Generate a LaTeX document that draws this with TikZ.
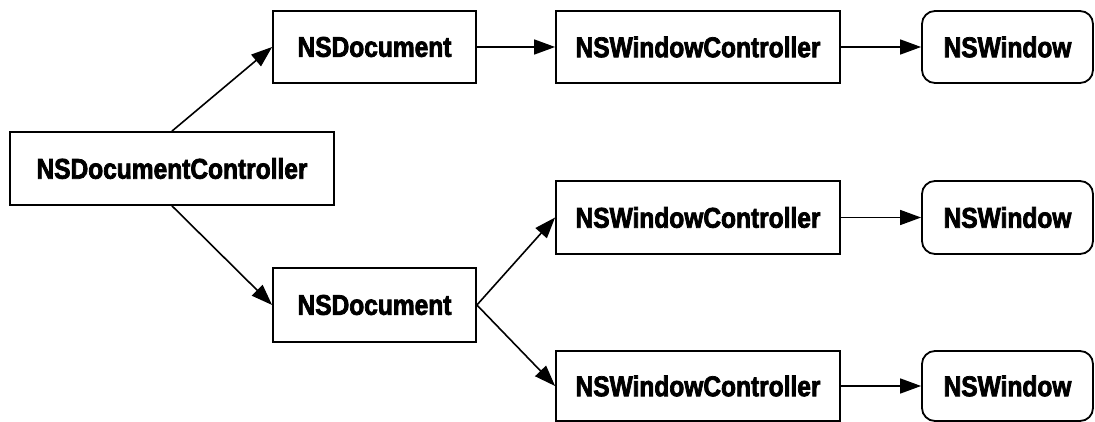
\documentclass[tikz,border=0pt]{standalone}
\usepackage{fontspec}
\newfontfamily\lbl{Liberation Sans}[FakeStretch=0.86,BoldFeatures={FakeBold=2.6}]
\usetikzlibrary{arrows.meta}
\begin{document}
\begin{tikzpicture}[x=1pt,y=-1pt,
  box/.style={draw=black,line width=1.8pt,fill=white,inner sep=0pt,
    minimum height=72pt,font=\lbl\bfseries\fontsize{28.5}{30}\selectfont,anchor=center},
  docbox/.style={box,minimum width=203pt},
  wcbox/.style={box,minimum width=284pt},
  winbox/.style={box,minimum width=171pt,rounded corners=13pt},
  dcbox/.style={box,minimum width=324pt,minimum height=73pt},
  conn/.style={line width=1.6pt,-{Triangle[length=21pt,width=15pt]}}]
\fill[white] (0,0) rectangle (1095,422);
\useasboundingbox (0,0) rectangle (1095,422);
\node[dcbox] (dc) at (172,168.5) {NSDocumentController};
\node[docbox] (docT) at (374.5,47) {NSDocument};
\node[wcbox] (wcT) at (698,47) {NSWindowController};
\node[winbox] (winT) at (1007.5,47) {NSWindow};
\node[docbox,minimum height=74pt] (docB) at (374.5,305) {NSDocument};
\node[wcbox,minimum height=73pt] (wcM) at (698,217.5) {NSWindowController};
\node[winbox,minimum height=73pt] (winM) at (1007.5,217.5) {NSWindow};
\node[wcbox,minimum height=70pt] (wcB) at (698,386) {NSWindowController};
\node[winbox,minimum height=70pt] (winB) at (1007.5,386) {NSWindow};
\draw[conn] (dc.north) -- (docT.west);
\draw[conn] (dc.south) -- (docB.west);
\draw[conn] (docT.east) -- (wcT.west);
\draw[conn] (wcT.east) -- (winT.west);
\draw[conn] (docB.east) -- (wcM.west);
\draw[conn] (docB.east) -- (wcB.west);
\draw[conn] (wcM.east) -- (winM.west);
\draw[conn] (wcB.east) -- (winB.west);
\end{tikzpicture}
\end{document}
